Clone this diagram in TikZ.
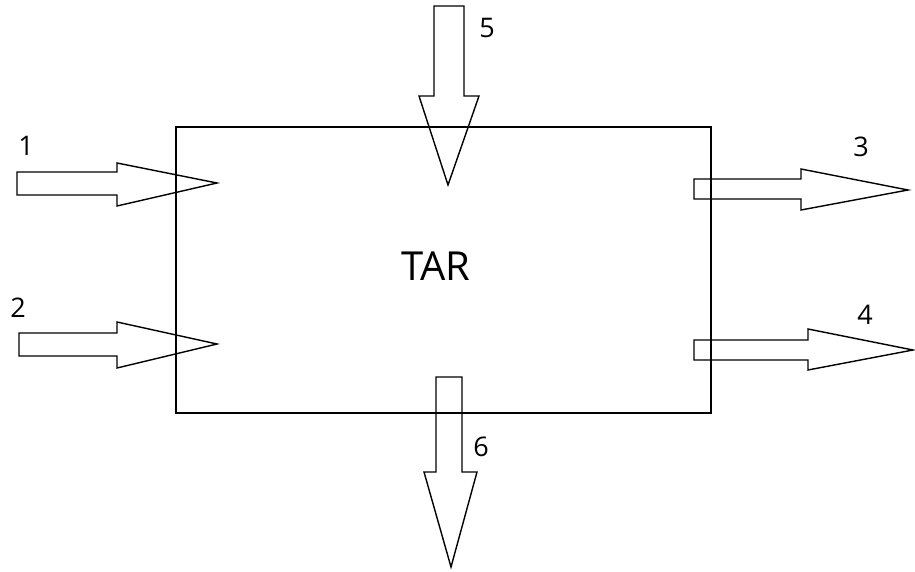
\documentclass[tikz,border=0pt]{standalone}
\usepackage{fontspec}
\setmainfont{Open Sans}
\begin{document}
\begin{tikzpicture}[x=1pt,y=-1pt,
  blockarrow/.style={draw=black,line width=1.4pt,line join=miter},
  box/.style={draw=black,line width=1.4pt},
  numlabel/.style={font=\fontsize{27}{30}\selectfont,inner sep=0pt},
  title/.style={font=\fontsize{40}{44}\selectfont,inner sep=0pt}]
\useasboundingbox (0,0) rectangle (915,572);
% box
\draw[box] (176,127) rectangle (711,413);
\node[title] (tar) at (436,266) {TAR};
% arrows
\draw[blockarrow] (17,172) -- (117,172) -- (117,163) -- (217,183) -- (117,206) -- (117,195) -- (17,195) -- cycle;
\draw[blockarrow] (19,333) -- (117,333) -- (117,322) -- (217,344) -- (117,368) -- (117,356) -- (19,356) -- cycle;
\draw[blockarrow] (694,179) -- (801,179) -- (801,169) -- (908,190) -- (801,210) -- (801,199) -- (694,199) -- cycle;
\draw[blockarrow] (694,340) -- (808,340) -- (808,329) -- (913,350) -- (808,370) -- (808,360) -- (694,360) -- cycle;
\draw[blockarrow] (434,6) -- (464,6) -- (464,96) -- (479,96) -- (448,185) -- (419,96) -- (434,96) -- cycle;
\draw[blockarrow] (436,377) -- (462,377) -- (462,472) -- (477,472) -- (451,567) -- (424,472) -- (436,472) -- cycle;
% labels
\node[numlabel] (l1) at (26,146) {1};
\node[numlabel] (l2) at (18,308) {2};
\node[numlabel] (l3) at (861,147) {3};
\node[numlabel] (l4) at (865,315) {4};
\node[numlabel] (l5) at (487,28) {5};
\node[numlabel] (l6) at (481,447) {6};
\end{tikzpicture}
\end{document}
